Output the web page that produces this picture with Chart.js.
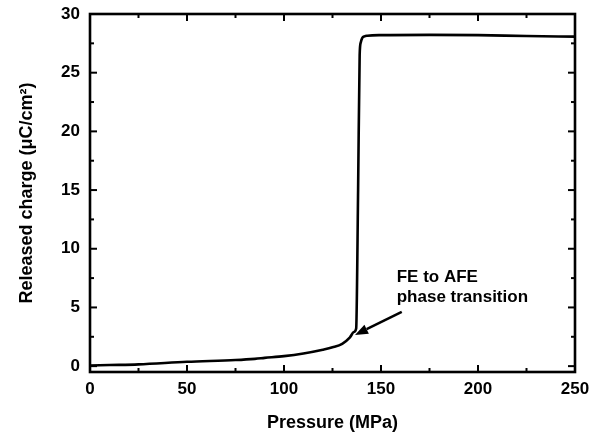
<!DOCTYPE html>
<html>
<head>
<meta charset="utf-8">
<script src="https://cdn.jsdelivr.net/npm/chart.js@4.4.0/dist/chart.umd.min.js"></script>
<style>
  html, body { margin: 0; padding: 0; background: #fff; }
  canvas { display: block; }
</style>
</head>
<body>
<canvas id="charge-chart" width="592" height="438"></canvas>
<script>
// pressure (MPa) vs released charge (uC/cm2)
const pressure = [0, 10, 25, 50, 75, 85, 90, 100, 110, 120, 125, 130, 134, 136, 137.2,
                  138.2, 139.0, 139.6, 140.3, 141.5, 143, 150, 175, 200, 225, 250];
const charge   = [0.05, 0.09, 0.15, 0.37, 0.52, 0.62, 0.7, 0.85, 1.08, 1.4, 1.6, 1.9, 2.45, 2.9, 3.2,
                  15, 26.5, 27.6, 27.95, 28.1, 28.15, 28.2, 28.22, 28.2, 28.12, 28.07];

const xTicks = [0, 50, 100, 150, 200, 250];
const xMinorTicks = [25, 75, 125, 175, 225];
const yTicks = [0, 5, 10, 15, 20, 25, 30];
const yMinorTicks = [2.5, 7.5, 12.5, 17.5, 22.5, 27.5];

const noteLines = ['FE to AFE', 'phase transition'];
const noteAt = [158.1, 7.2];       // text anchor (data units)
const arrowFrom = [160.7, 4.63];
const arrowTo = [136.6, 2.65];

const FONT = '"Liberation Sans", Arial, Helvetica, sans-serif';

const frame = {
    id: 'frame',
    afterDraw(chart) {
        const {ctx, chartArea: a, scales: {x, y}} = chart;
        ctx.save();
        ctx.strokeStyle = '#000';
        ctx.fillStyle = '#000';
        ctx.lineCap = 'butt';

        const seg = (x1, y1, x2, y2) => {
            ctx.beginPath();
            ctx.moveTo(x1, y1);
            ctx.lineTo(x2, y2);
            ctx.stroke();
        };

        // inward ticks on all four sides
        ctx.lineWidth = 2;
        xTicks.concat(xMinorTicks).forEach(v => {
            const px = x.getPixelForValue(v);
            const len = xTicks.includes(v) ? 7 : 4;
            seg(px, a.bottom, px, a.bottom - len);
            seg(px, a.top, px, a.top + len);
        });
        yTicks.concat(yMinorTicks).forEach(v => {
            const py = y.getPixelForValue(v);
            const len = yTicks.includes(v) ? 7 : 4;
            seg(a.left, py, a.left + len, py);
            seg(a.right, py, a.right - len, py);
        });

        ctx.lineWidth = 2.6;
        ctx.strokeRect(a.left, a.top, a.right - a.left, a.bottom - a.top);

        // annotation
        ctx.font = 'bold 17px ' + FONT;
        ctx.textAlign = 'left';
        ctx.textBaseline = 'alphabetic';
        const tx = x.getPixelForValue(noteAt[0]);
        const ty = y.getPixelForValue(noteAt[1]);
        noteLines.forEach((t, i) => ctx.fillText(t, tx, ty + i * 20.5));

        const ax1 = x.getPixelForValue(arrowFrom[0]), ay1 = y.getPixelForValue(arrowFrom[1]);
        const ax2 = x.getPixelForValue(arrowTo[0]), ay2 = y.getPixelForValue(arrowTo[1]);
        const ang = Math.atan2(ay2 - ay1, ax2 - ax1);
        const headLen = 13, headW = 5;
        const bx = ax2 - headLen * Math.cos(ang), by = ay2 - headLen * Math.sin(ang);
        ctx.lineWidth = 2.5;
        seg(ax1, ay1, bx, by);
        ctx.beginPath();
        ctx.moveTo(ax2, ay2);
        ctx.lineTo(bx + headW * Math.sin(ang), by - headW * Math.cos(ang));
        ctx.lineTo(bx - headW * Math.sin(ang), by + headW * Math.cos(ang));
        ctx.closePath();
        ctx.fill();
        ctx.restore();
    }
};

new Chart('charge-chart', {
    type: 'line',
    data: {
        datasets: [{
            data: pressure.map((p, i) => ({x: p, y: charge[i]})),
            borderColor: '#000',
            borderWidth: 2.6,
            pointRadius: 0,
            cubicInterpolationMode: 'monotone',
            fill: false
        }]
    },
    options: {
        responsive: false,
        animation: false,
        layout: {padding: {top: 14, right: 17, left: 0, bottom: 0}},
        plugins: {legend: {display: false}, tooltip: {enabled: false}},
        scales: {
            x: {
                type: 'linear',
                min: 0,
                max: 250,
                grid: {display: false, drawTicks: false},
                border: {display: false},
                afterBuildTicks: s => { s.ticks = xTicks.map(v => ({value: v})); },
                afterFit: s => { s.height = 66; s.paddingLeft = 0; s.paddingRight = 0; },
                ticks: {
                    padding: 7,
                    color: '#000',
                    font: {family: FONT, size: 17, weight: 'bold'},
                    callback: v => String(v)
                },
                title: {
                    display: true,
                    text: 'Pressure (MPa)',
                    color: '#000',
                    font: {family: FONT, size: 18, weight: 'bold'},
                    padding: {top: 0, bottom: 4}
                }
            },
            y: {
                min: -0.5,
                max: 30,
                grid: {display: false, drawTicks: false},
                border: {display: false},
                afterBuildTicks: s => { s.ticks = yTicks.map(v => ({value: v})); },
                afterFit: s => { s.width = 90; s.paddingTop = 0; s.paddingBottom = 0; },
                ticks: {
                    padding: 10,
                    color: '#000',
                    font: {family: FONT, size: 17, weight: 'bold'},
                    callback: v => String(v)
                },
                title: {
                    display: true,
                    text: 'Released charge (μC/cm²)',
                    color: '#000',
                    font: {family: FONT, size: 18, weight: 'bold'},
                    padding: {top: 16, bottom: 0}
                }
            }
        }
    },
    plugins: [frame]
});
</script>
</body>
</html>
